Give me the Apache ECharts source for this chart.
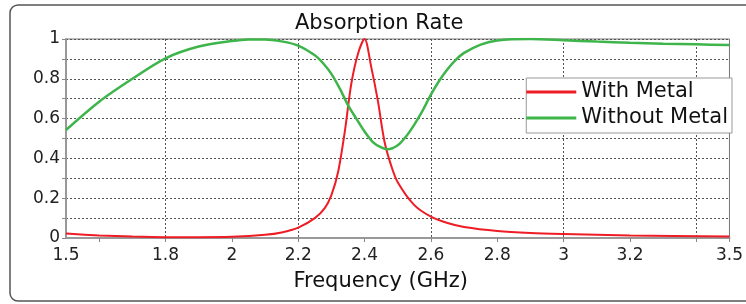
<!DOCTYPE html>
<html>
<head>
<meta charset="utf-8">
<title>Absorption Rate</title>
<script src="https://cdn.jsdelivr.net/npm/echarts@6/dist/echarts.min.js"></script>
<style>
  html, body { margin: 0; padding: 0; background: #fff; }
  #chart { width: 746px; height: 304px; }
</style>
</head>
<body>
<div id="chart"></div>
<script>
// values
var seriesNames = ['With Metal', 'Without Metal']

var withMetalFreq = [1.5, 1.6, 1.7, 1.8, 1.9, 2.0, 2.1, 2.15, 2.2, 2.25, 2.28, 2.3, 2.32, 2.34, 2.36, 2.38, 2.4,
  2.42, 2.44, 2.46, 2.48, 2.5, 2.55, 2.6, 2.65, 2.7, 2.8, 2.9, 3.0, 3.2, 3.5]
var withMetalRate = [0.022, 0.013, 0.007, 0.004, 0.004, 0.006, 0.016, 0.028, 0.052, 0.1, 0.15, 0.215, 0.33, 0.53, 0.775, 0.925, 1.0,
  0.86, 0.69, 0.485, 0.365, 0.28, 0.165, 0.107, 0.075, 0.055, 0.035, 0.025, 0.02, 0.013, 0.008]

var withoutMetalFreq = [1.5, 1.6, 1.7, 1.8, 1.9, 2.0, 2.05, 2.1, 2.15, 2.2, 2.25, 2.275, 2.3, 2.325, 2.35, 2.375, 2.4,
  2.425, 2.45, 2.47, 2.5, 2.525, 2.55, 2.575, 2.6, 2.625, 2.65, 2.675, 2.7, 2.75, 2.8, 2.9, 3.0, 3.1, 3.2, 3.3, 3.4, 3.5]
var withoutMetalRate = [0.543, 0.685, 0.8, 0.903, 0.962, 0.99, 0.998, 0.998, 0.988, 0.967, 0.918, 0.878, 0.825, 0.752, 0.668, 0.6, 0.535,
  0.482, 0.455, 0.446, 0.466, 0.51, 0.57, 0.64, 0.72, 0.79, 0.848, 0.895, 0.93, 0.972, 0.993, 1.0, 0.994, 0.987, 0.981, 0.976, 0.973, 0.97]

var xLabels = ['1.5', '1.8', '2', '2.2', '2.4', '2.6', '2.8', '3', '3.2', '3.5']
var xTicks = [1.6, 1.8, 2.0, 2.2, 2.4, 2.6, 2.8, 3.0, 3.2, 3.4, 3.5]
var yLabels = ['0', '0.2', '0.4', '0.6', '0.8', '1']

var font = 'DejaVu Sans'

function fmt(v) {
  return String(+v.toFixed(1))
}

function pairs(xs, ys) {
  return xs.map(function (x, i) { return [x, ys[i]] })
}

var chart = echarts.init(document.getElementById('chart'))
chart.setOption({
  animation: false,
  textStyle: { fontFamily: font },
  title: {
    text: 'Absorption Rate',
    left: 290,
    top: 8,
    textStyle: { fontSize: 21, fontWeight: 'normal', color: '#111', fontFamily: font }
  },
  graphic: [
    {
      type: 'rect',
      z: -10,
      shape: { x: 10, y: 5, width: 800, height: 296, r: 8 },
      style: { fill: 'none', stroke: '#555', lineWidth: 1.5 }
    }
  ],
  grid: {
    left: 66,
    right: 13,
    top: 39,
    bottom: 66,
    show: true,
    borderColor: '#777',
    borderWidth: 1
  },
  legend: {
    orient: 'vertical',
    right: 14,
    top: 78,
    icon: 'rect',
    itemWidth: 50,
    itemHeight: 3,
    itemGap: 0,
    padding: [1, 4, 2, 0],
    backgroundColor: '#fff',
    borderColor: '#999',
    borderWidth: 1,
    textStyle: { fontSize: 21, color: '#111', lineHeight: 26, fontFamily: font },
    data: seriesNames
  },
  xAxis: {
    type: 'value',
    min: 1.5,
    max: 3.5,
    interval: 0.1,
    name: 'Frequency (GHz)',
    nameLocation: 'middle',
    nameGap: 33,
    nameTextStyle: { fontSize: 21, color: '#111', padding: [0, 34, 0, 0], fontFamily: font },
    axisLine: { lineStyle: { color: '#999', width: 2 } },
    axisTick: { show: true, customValues: xTicks, length: 4, lineStyle: { color: '#888' } },
    axisLabel: {
      fontSize: 17,
      color: '#222',
      margin: 9,
      formatter: function (v) {
        return xLabels.indexOf(fmt(v)) >= 0 ? fmt(v) : ''
      }
    },
    splitLine: {
      show: true,
      lineStyle: { color: ['rgba(0,0,0,0)', '#555'], type: [2, 2], width: 1 }
    }
  },
  yAxis: {
    type: 'value',
    min: 0,
    max: 1,
    interval: 0.1,
    axisLine: { show: true, lineStyle: { color: '#999', width: 2 } },
    axisTick: { show: true, length: 4, lineStyle: { color: '#888' } },
    axisLabel: {
      fontSize: 17,
      color: '#222',
      margin: 6,
      formatter: function (v) {
        return yLabels.indexOf(fmt(v)) >= 0 ? fmt(v) : ''
      }
    },
    splitLine: { show: true, lineStyle: { color: '#555', type: [2, 2], width: 1 } }
  },
  series: [
    {
      name: seriesNames[0],
      type: 'line',
      symbol: 'none',
      smooth: 0.3,
      color: '#ee1c24',
      lineStyle: { width: 2 },
      data: pairs(withMetalFreq, withMetalRate)
    },
    {
      name: seriesNames[1],
      type: 'line',
      symbol: 'none',
      smooth: 0.3,
      color: '#3db54a',
      lineStyle: { width: 2.5 },
      data: pairs(withoutMetalFreq, withoutMetalRate)
    }
  ]
})
</script>
</body>
</html>
